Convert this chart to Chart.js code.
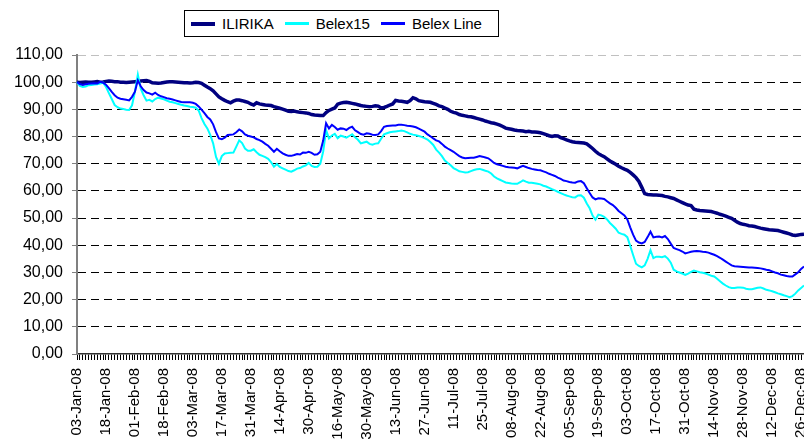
<!DOCTYPE html>
<html>
<head>
<meta charset="utf-8">
<title>ILIRIKA vs Belex15 / Belex Line</title>
<script src="https://cdn.jsdelivr.net/npm/chart.js@4.4.1/dist/chart.umd.min.js"></script>
<style>
  body { margin: 0; background: #fff; }
  #wrap { position: relative; width: 804px; height: 439px; }
  #legend {
    position: absolute; left: 184px; top: 10px; width: 307px; height: 25px;
    border: 1px solid #000; background: #fff;
    font: 15px "Liberation Sans", Arial, sans-serif; color: #000;
    display: flex; align-items: center; padding-left: 6px; box-sizing: content-box;
  }
  #legend .item { display: flex; align-items: center; margin-right: 11px; white-space: nowrap; }
  #legend .swatch { display: inline-block; width: 24px; height: 0; margin-right: 7px; }
</style>
</head>
<body>
<div id="wrap">
  <canvas id="myChart" width="804" height="439"></canvas>
  <div id="legend"></div>
</div>
<script>
var tickLabels = ['03-Jan-08','18-Jan-08','01-Feb-08','18-Feb-08','03-Mar-08','17-Mar-08','31-Mar-08',
  '14-Apr-08','30-Apr-08','16-May-08','30-May-08','13-Jun-08','27-Jun-08','11-Jul-08','25-Jul-08',
  '08-Aug-08','22-Aug-08','05-Sep-08','19-Sep-08','03-Oct-08','17-Oct-08','31-Oct-08','14-Nov-08',
  '28-Nov-08','12-Dec-08','26-Dec-08'];

var seriesNames = ['ILIRIKA', 'Belex15', 'Belex Line'];

// one value per trading day
var ilirika = [
  100.0, 99.9, 100.0, 100.1, 100.0, 100.0, 100.1, 100.2, 100.0, 100.1,
  100.3, 100.4, 100.3, 100.2, 100.2, 100.0, 100.0, 99.9, 100.0, 100.1,
  100.2, 100.3, 100.4, 100.5, 100.6, 100.3, 99.8, 99.7, 99.6, 99.7,
  99.9, 100.1, 100.2, 100.2, 100.1, 100.0, 99.9, 99.8, 99.8, 99.7,
  99.8, 100.0, 99.9, 99.6, 98.9, 98.2, 97.6, 96.8, 95.7, 94.6,
  93.9, 93.3, 92.8, 92.4, 93.0, 93.4, 93.4, 93.2, 92.9, 92.6,
  92.0, 91.6, 92.4, 92.0, 91.8, 91.6, 91.5, 91.4, 91.0, 90.7,
  90.4, 90.1, 89.7, 89.3, 89.2, 89.4, 89.1, 88.9, 88.8, 88.7,
  88.5, 88.1, 87.9, 87.8, 87.7, 87.7, 88.8, 89.6, 90.1, 90.5,
  91.9, 92.3, 92.5, 92.6, 92.4, 92.2, 92.0, 91.7, 91.4, 91.2,
  91.1, 91.0, 91.1, 91.3, 91.2, 90.5, 90.7, 91.1, 91.6, 92.0,
  93.3, 93.1, 93.0, 92.8, 92.6, 93.2, 94.3, 93.9, 93.2, 93.0,
  92.8, 92.7, 92.6, 92.2, 91.8, 91.3, 91.0, 90.5, 90.0, 89.3,
  88.9, 88.6, 88.1, 87.8, 87.6, 87.4, 87.3, 87.0, 86.7, 86.4,
  86.1, 85.7, 85.4, 85.1, 84.9, 84.6, 84.2, 83.7, 83.1, 82.9,
  82.7, 82.4, 82.2, 82.1, 82.0, 81.8, 81.9, 81.7, 81.7, 81.6,
  81.4, 81.1, 80.7, 80.3, 80.0, 80.3, 80.2, 79.6, 79.2, 78.8,
  78.4, 78.1, 77.9, 77.8, 77.7, 77.6, 77.3, 76.5, 75.6, 74.6,
  73.7, 73.1, 72.6, 71.8, 71.0, 70.4, 69.8, 69.1, 68.5, 68.0,
  67.6, 66.8, 65.9, 64.9, 63.5, 61.3, 59.0, 58.7, 58.6, 58.5,
  58.5, 58.4, 58.3, 58.0, 57.8, 57.5, 57.2, 56.7, 56.2, 55.7,
  55.2, 54.8, 54.6, 53.3, 53.0, 52.8, 52.7, 52.6, 52.5, 52.4,
  52.1, 51.8, 51.4, 51.1, 50.7, 50.3, 49.9, 49.2, 48.5, 48.0,
  47.7, 47.5, 47.2, 47.1, 46.9, 46.6, 46.3, 46.1, 45.9, 45.7,
  45.6, 45.5, 45.4, 45.1, 44.8, 44.5, 44.2, 43.8, 43.6, 43.8,
  44.0, 44.1
];

var belex15 = [
  100.0, 98.6, 98.2, 98.4, 98.9, 99.0, 99.1, 99.2, 99.5, 99.8,
  98.3, 96.0, 93.8, 91.6, 90.8, 90.3, 90.1, 89.9, 89.8, 91.5,
  96.5, 102.8, 97.6, 95.2, 93.2, 93.5, 92.9, 93.8, 94.3, 94.0,
  93.7, 93.2, 92.8, 92.6, 92.3, 92.0, 91.7, 91.4, 91.2, 91.0,
  90.9, 90.6, 89.6, 86.8, 84.6, 83.0, 80.6, 77.5, 72.5, 70.0,
  72.8, 73.8, 73.9, 74.0, 74.1, 76.3, 78.6, 77.6, 75.6, 74.8,
  74.8, 75.3, 74.2, 73.3, 72.9, 72.4, 71.8, 70.6, 68.9, 69.9,
  68.8, 68.3, 67.8, 67.3, 67.1, 67.6, 68.2, 68.4, 69.0, 69.4,
  70.3, 69.2, 68.8, 68.9, 70.0, 74.5, 82.3, 79.3, 80.4, 81.0,
  79.4, 80.3, 80.0, 79.6, 80.2, 80.8, 79.7, 78.8, 77.5, 77.8,
  78.1, 77.3, 77.0, 77.4, 77.5, 79.2, 80.8, 81.2, 81.6, 81.8,
  81.9, 82.0, 82.2, 82.0, 81.5, 81.0, 80.7, 80.5, 80.2, 79.9,
  79.4, 78.9, 78.0, 76.9, 75.2, 74.1, 72.8, 71.2, 70.3, 69.4,
  68.4, 67.8, 67.2, 67.0, 66.8, 66.9, 67.3, 67.7, 68.0, 68.1,
  67.8, 67.4, 67.1, 66.4, 65.3, 64.6, 64.1, 63.6, 63.1, 62.9,
  62.7, 62.6, 62.6, 63.2, 63.9, 63.4, 63.0, 63.0, 62.8, 62.6,
  62.4, 61.9, 61.6, 61.1, 60.6, 60.2, 59.7, 59.2, 58.7, 58.3,
  58.0, 57.7, 57.6, 58.3, 58.4, 57.5, 55.4, 53.6, 50.9, 49.4,
  51.3, 51.0, 50.5, 49.5, 48.2, 47.2, 46.1, 44.6, 44.2, 43.9,
  43.0, 39.8, 36.4, 33.2, 32.4, 31.9, 32.6, 35.0, 38.2, 35.3,
  35.8, 35.8, 35.6, 36.0, 35.1, 33.6, 31.0, 30.4, 30.0, 29.6,
  29.1, 29.6, 30.2, 30.7, 30.4, 30.1, 29.9, 29.6, 29.2, 28.8,
  28.5, 27.7, 26.8, 25.9, 25.2, 24.6, 24.3, 24.3, 24.5, 24.5,
  24.4, 24.0, 23.8, 23.8, 24.1, 24.4, 24.5, 24.1, 23.6, 23.4,
  23.1, 22.7, 22.3, 22.0, 21.6, 21.3, 20.9, 21.3, 22.2, 23.4,
  24.3, 25.2
];

var belexLine = [
  100.0, 99.3, 99.0, 99.2, 99.4, 99.5, 99.6, 99.5, 100.1, 99.8,
  99.1, 97.8, 96.4, 95.2, 94.3, 93.9, 93.7, 93.5, 93.3, 94.6,
  96.5, 100.7, 98.5, 97.1, 96.2, 95.9, 95.4, 96.1, 95.3, 94.8,
  94.5, 94.1, 93.9, 93.6, 93.3, 93.0, 92.7, 92.6, 92.6, 92.6,
  92.4, 92.0, 91.1, 89.9, 88.6, 87.2, 86.3, 84.5, 81.6, 79.3,
  79.0, 79.6, 80.6, 80.7, 80.8, 81.6, 82.6, 81.9, 80.8, 80.3,
  80.0, 79.7, 79.1, 78.7, 78.1, 77.3, 76.6, 75.5, 74.4, 75.5,
  74.6, 73.8, 73.3, 72.9, 72.9, 73.2, 73.6, 73.4, 74.1, 74.0,
  74.4, 74.0, 73.3, 73.5, 74.4, 78.5, 84.9, 83.0, 84.3, 83.5,
  82.5, 83.0, 82.9, 82.4, 83.2, 83.6, 82.3, 81.6, 80.9, 80.7,
  81.2, 81.0, 80.7, 80.6, 80.8, 82.0, 83.6, 83.9, 84.0, 84.1,
  84.1, 84.3, 84.3, 84.2, 84.0, 83.9, 83.7, 83.4, 82.9, 82.4,
  81.8, 80.8, 80.1, 79.3, 78.6, 78.2, 77.3, 76.3, 75.6, 75.0,
  74.4, 73.6, 72.8, 72.3, 72.0, 72.1, 72.2, 72.2, 72.5, 72.8,
  72.6, 72.3, 72.0, 71.2, 70.3, 69.8, 69.5, 69.2, 68.9, 68.7,
  68.6, 68.5, 68.3, 68.8, 69.2, 68.8, 68.4, 68.1, 67.9, 67.7,
  67.6, 67.2, 66.8, 66.3, 65.9, 65.5, 64.9, 64.4, 63.8, 63.6,
  63.3, 63.1, 63.0, 63.5, 63.6, 62.8, 61.0, 59.2, 57.6, 56.9,
  57.3, 57.2, 57.0, 56.2, 55.4, 54.8, 53.8, 52.6, 51.8, 51.0,
  49.5, 46.6, 43.9, 41.7, 41.0, 40.7, 41.2, 43.0, 45.0, 42.9,
  43.1, 43.2, 42.9, 43.4, 42.3, 40.6, 39.0, 38.6, 38.2, 37.7,
  37.0, 37.3, 37.6, 37.8, 37.9, 37.8, 37.6, 37.5, 37.3, 36.9,
  36.5, 36.0, 35.4, 34.7, 34.0, 33.3, 32.6, 32.3, 32.2, 32.1,
  32.0, 31.9, 31.8, 31.8, 31.7, 31.6, 31.5, 31.3, 31.0, 30.8,
  30.4, 30.0, 29.7, 29.2, 29.0, 28.7, 28.5, 28.5, 29.3, 30.1,
  31.3, 32.2
];

var colors = ['#000080', '#00ffff', '#0000ff'];
var lineWidths = [3.5, 2, 2];
var fontFamily = '"Liberation Sans", Arial, sans-serif';

// a date under every 10th trading day, the rest only get a tick mark
var labels = ilirika.map(function(v, i){
    return i % 10 === 0 ? tickLabels[i / 10] : '';
});

var seriesValues = [ilirika, belex15, belexLine];

// html legend with the frame round it
var legend = document.getElementById('legend');
seriesNames.forEach(function(name, i){
    var item = document.createElement('span');
    item.className = 'item';
    var sw = document.createElement('span');
    sw.className = 'swatch';
    sw.style.borderTop = Math.round(lineWidths[i] + 0.5) + 'px solid ' + colors[i];
    item.appendChild(sw);
    item.appendChild(document.createTextNode(name));
    legend.appendChild(item);
});

var ctx = document.getElementById('myChart');
var myChart = new Chart(ctx, {
  type: 'line',
  data: {
    labels: labels,
    datasets: seriesNames.map(function(name, i){
        return {
            label: name,
            data: seriesValues[i],
            borderColor: colors[i],
            borderWidth: lineWidths[i],
            pointRadius: 0,
            tension: 0,
            fill: false,
            order: 3 - i
        };
    })
  },
  options: {
    responsive: false,
    animation: false,
    layout: { padding: { top: 55, left: 14, right: 0, bottom: 0 } },
    plugins: {
      legend: { display: false },
      tooltip: { enabled: false }
    },
    scales: {
      x: {
        offset: false,
        grid: { drawOnChartArea: false, tickLength: 6, tickColor: '#000', tickWidth: 1 },
        border: { color: '#333', width: 1.5 },
        ticks: {
          autoSkip: false,
          minRotation: 90,
          maxRotation: 90,
          padding: 8,
          color: '#000',
          font: { family: fontFamily, size: 15 }
        },
        // fixed band under the plot, and let the plot run to the right edge
        afterFit: function(scale){
            scale.height = 85;
            scale.paddingRight = 0;
        }
      },
      y: {
        min: 0,
        max: 110,
        ticks: {
          stepSize: 10,
          padding: 9,
          color: '#000',
          font: { family: fontFamily, size: 16 },
          callback: function(v){ return v.toFixed(2).replace('.', ','); }
        },
        afterFit: function(scale){ scale.width = 63; },
        grid: {
          color: function(c){
              if (!c.tick) return '#000';
              if (c.tick.value === 110) return '#c0c0c0';
              if (c.tick.value === 0) return 'rgba(0,0,0,0)';
              return '#000';
          },
          lineWidth: 1,
          tickLength: 5,
          tickColor: '#808080'
        },
        border: { color: '#808080', width: 2, dash: [8, 5] }
      }
    }
  }
});
</script>
</body>
</html>
